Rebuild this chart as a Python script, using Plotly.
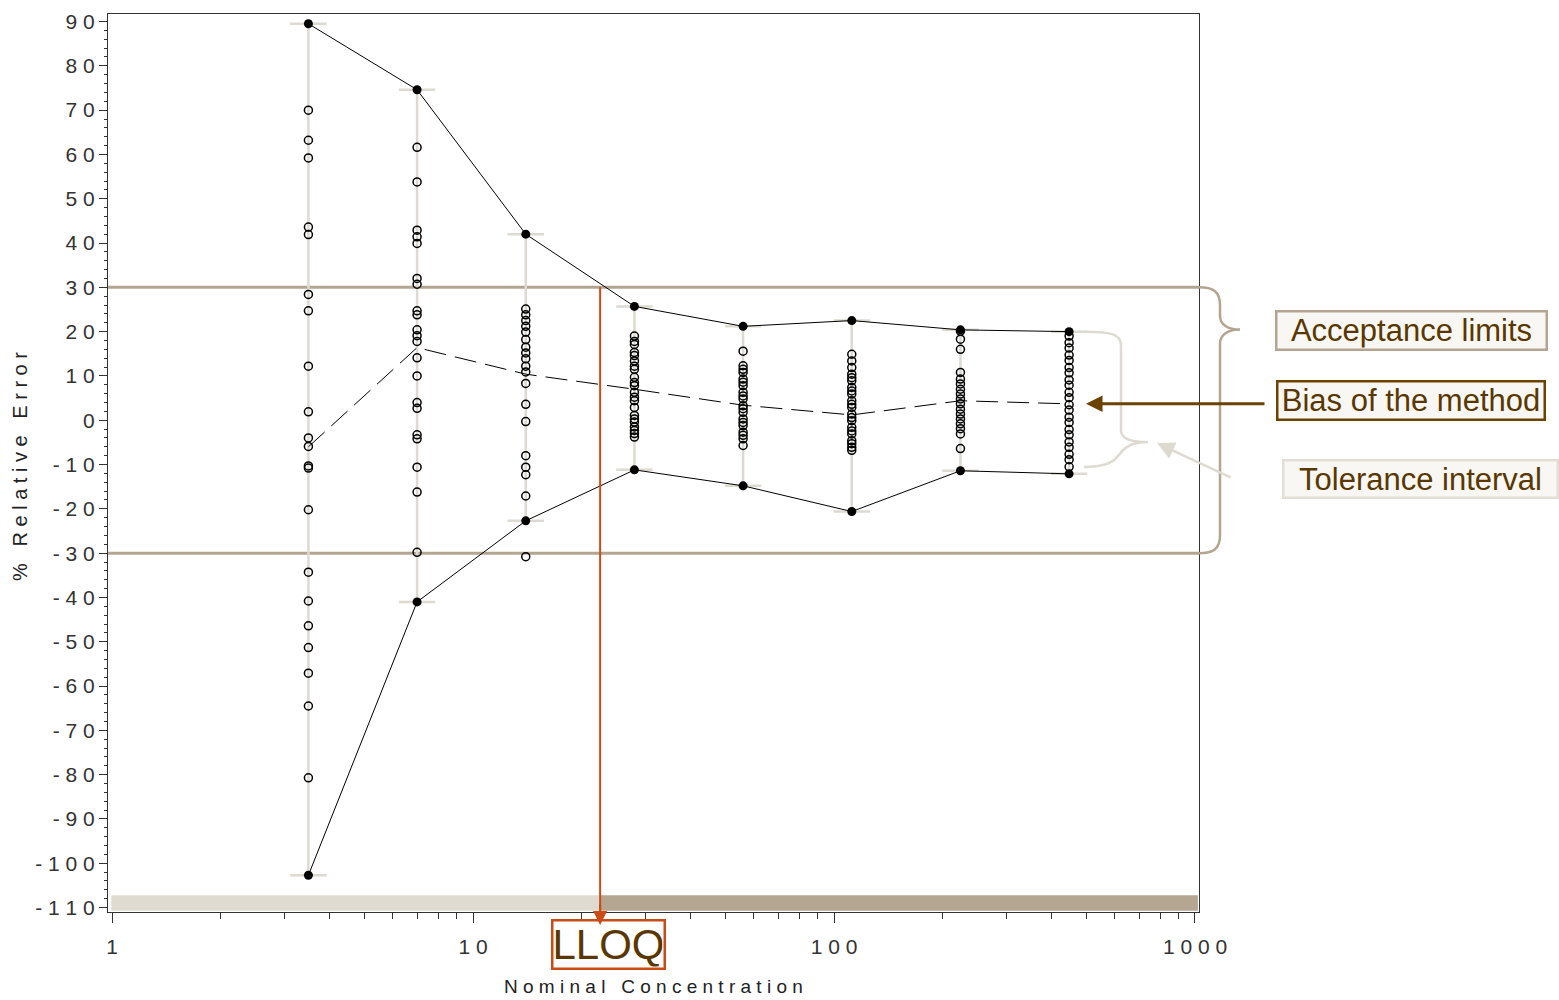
import math
import plotly.graph_objects as go

# ---------------- data ----------------
conc = [3.5, 7, 14, 28, 56, 112, 224, 448]
upper_tol = [89.5, 74.6, 42.0, 25.7, 21.2, 22.5, 20.4, 20.0]
lower_tol = [-102.7, -41.0, -22.7, -11.2, -14.8, -20.6, -11.4, -12.1]
bias = [-6.0, 16.4, 10.4, 7.0, 3.4, 1.2, 4.4, 3.7]

obs_3_5 = [70.0, 63.2, 59.2, 43.6, 41.9, 28.4, 24.7, 12.2, 1.9, -4.0, -5.9,
           -10.3, -10.8, -20.2, -34.3, -40.8, -46.4, -51.3, -57.1, -64.5, -80.7]
obs_7 = [61.6, 53.8, 42.9, 41.4, 39.9, 32.0, 30.7, 24.7, 23.8, 20.4, 19.1,
         17.8, 14.1, 10.0, 4.0, 2.7, -3.3, -4.2, -10.6, -16.2, -29.8]
obs_14 = [25.1, 23.8, 22.5, 21.2, 19.9, 18.2, 16.5, 15.2, 13.9, 12.2, 10.9,
          8.3, 3.6, -0.3, -8.0, -10.6, -12.3, -17.1, -30.8]
obs_28 = [19.0, 17.8, 17.1, 15.3, 14.6, 13.4, 12.2, 11.5, 9.7, 8.5, 7.8,
          6.3, 5.2, 4.4, 2.9, 1.1, 0.3, -0.4, -1.5, -2.3, -3.0, -3.8]
obs_56 = [15.6, 12.3, 11.5, 10.8, 9.3, 8.6, 7.8, 6.3, 5.5, 4.8, 3.3, 2.6,
          1.8, 0.3, -0.5, -1.2, -2.7, -3.4, -4.2, -5.7]
obs_112 = [14.9, 13.4, 11.9, 10.4, 9.6, 8.9, 7.4, 6.6, 5.9, 4.4, 3.6, 2.9,
           1.4, 0.6, -0.1, -1.6, -2.4, -3.1, -4.6, -5.3, -6.1, -6.8]
obs_224 = [20.1, 18.3, 16.0, 10.8, 9.3, 8.2, 7.0, 5.9, 4.8, 3.7, 2.5, 1.4,
           0.3, -0.8, -1.9, -3.1, -6.4]
obs_448 = [19.0, 17.5, 16.3, 14.7, 13.5, 11.9, 10.7, 9.1, 7.9, 6.3, 5.1, 3.5,
           2.3, 0.7, -0.5, -2.1, -3.3, -4.9, -6.1, -7.7, -8.9, -10.5]
observations = [obs_3_5, obs_7, obs_14, obs_28, obs_56, obs_112, obs_224, obs_448]

acceptance_limit = 30
lloq = 22.5

x_tickvals = [1, 10, 100, 1000]
y_tickvals = list(range(-110, 91, 10))

# ---------------- layout geometry ----------------
W, H = 1559, 1000
ML, MR, MT, MB = 108, 360, 10, 88
PW, PH = W - ML - MR, H - MT - MB
X_RANGE = [-0.0111, 3.0111]
Y_RANGE = [-111.0, 91.7]

def xp(v):  # data x -> paper
    return (math.log10(v) - X_RANGE[0]) / (X_RANGE[1] - X_RANGE[0])

def yp(v):  # data y -> paper
    return (v - Y_RANGE[0]) / (Y_RANGE[1] - Y_RANGE[0])

def ypx(v):  # data y -> pixel
    return MT + PH * (1 - yp(v))

def px2p(x):
    return (x - ML) / PW

def py2p(y):
    return (MT + PH - y) / PH

def path(cmds):
    out = []
    for c in cmds:
        if isinstance(c, str):
            out.append(c)
        else:
            out.append(f"{px2p(c[0]):.5f},{py2p(c[1]):.5f}")
    return " ".join(out)

spaced = lambda s: " ".join(str(s))

LIGHT = "#dedad0"
TAN = "#b3a590"
BROWN = "#6b4200"
TEXT_BROWN = "#5a3700"
RED = "#cc4a14"
AX = "#333333"

fig = go.Figure()

# vertical tolerance bars
vx, vy = [], []
for c, u, l in zip(conc, upper_tol, lower_tol):
    vx += [c, c, None]
    vy += [u, l, None]
fig.add_trace(go.Scatter(x=vx, y=vy, mode="lines",
                         line=dict(color=LIGHT, width=2.5), hoverinfo="skip"))
# caps
fig.add_trace(go.Scatter(x=conc + conc, y=upper_tol + lower_tol, mode="markers",
                         marker=dict(symbol="line-ew", size=26, color=LIGHT,
                                     line=dict(color=LIGHT, width=2.5)),
                         hoverinfo="skip"))
# individual observations
ox, oy = [], []
for c, obs in zip(conc, observations):
    ox += [c] * len(obs)
    oy += obs
fig.add_trace(go.Scatter(x=ox, y=oy, mode="markers",
                         marker=dict(symbol="circle-open", size=8, color="black",
                                     line=dict(color="black", width=1.5))))
# tolerance limits
for vals in (upper_tol, lower_tol):
    fig.add_trace(go.Scatter(x=conc, y=vals, mode="lines+markers",
                             line=dict(color="black", width=1),
                             marker=dict(symbol="circle", size=9, color="black")))
# bias
fig.add_trace(go.Scatter(x=conc, y=bias, mode="lines",
                         line=dict(color="black", width=1, dash="22px,9px")))

shapes = []
# acceptance limits
for a in (acceptance_limit, -acceptance_limit):
    shapes.append(dict(type="line", xref="paper", yref="y", x0=0, x1=1, y0=a, y1=a,
                       line=dict(color=TAN, width=3), layer="below"))
# bottom bars
shapes.append(dict(type="rect", xref="paper", yref="y", x0=0.003, x1=xp(lloq),
                   y0=-110.7, y1=-107.2, line=dict(width=0), fillcolor="#dfdbd1",
                   layer="below"))
shapes.append(dict(type="rect", xref="paper", yref="y", x0=xp(lloq), x1=0.999,
                   y0=-110.7, y1=-107.2, line=dict(width=0), fillcolor="#b4a690",
                   layer="below"))
# LLOQ red line
shapes.append(dict(type="line", xref="paper", yref="paper", x0=xp(lloq), x1=xp(lloq),
                   y0=yp(acceptance_limit), y1=0, line=dict(color=RED, width=2)))

# acceptance brace
top, bot = ypx(acceptance_limit), ypx(-acceptance_limit)
tip = 327
xe, xm, xt = ML + PW, ML + PW + 21, ML + PW + 41
shapes.append(dict(type="path", xref="paper", yref="paper", line=dict(color=TAN, width=2.5),
                   path=path(["M", (xe, top), "C", (xe + 14, top), (xm, top + 4), (xm, top + 18),
                              "L", (xm, tip - 14), "C", (xm, tip - 5), (xm + 8, tip), (xt, tip),
                              "C", (xm + 8, tip), (xm, tip + 5), (xm, tip + 14),
                              "L", (xm, bot - 18), "C", (xm, bot - 4), (xe + 14, bot), (xe, bot)])))
# tolerance brace
t_top, t_bot = ypx(upper_tol[-1]), ypx(lower_tol[-1]) - 7
shapes.append(dict(type="path", xref="paper", yref="paper", line=dict(color=LIGHT, width=2.5),
                   path=path(["M", (1084, t_top), "C", (1110, t_top), (1121, t_top + 2), (1121, t_top + 14),
                              "L", (1121, 428), "C", (1121, 436), (1130, 440), (1148, 440),
                              "C", (1130, 440), (1124, 446), (1118, 454),
                              "C", (1112, t_bot - 3), (1102, t_bot), (1084, t_bot)])))

C = dict(xanchor="center", yanchor="middle", xref="paper", yref="paper")
annotations = []
# axis titles
annotations.append(dict(**C, x=px2p(653), y=py2p(987),
                        text=spaced("Nominal") + "   " + spaced("Concentration"),
                        showarrow=False, font=dict(family="Liberation Sans", size=19, color="#222")))
annotations.append(dict(**C, x=px2p(20), y=py2p(465), textangle=-90,
                        text="%   " + spaced("Relative") + "   " + spaced("Error"),
                        showarrow=False, font=dict(family="Liberation Sans", size=20, color="#222")))
# LLOQ label and arrow head
annotations.append(dict(**C, x=px2p(608), y=py2p(945), text="LLOQ",
                        showarrow=False, font=dict(family="Liberation Sans", size=42, color=TEXT_BROWN),
                        bordercolor=RED, borderwidth=2.5, borderpad=1, bgcolor="white",
                        width=108, height=44))
annotations.append(dict(**C, x=xp(lloq), y=py2p(925), text="",
                        showarrow=True, ax=0, ay=-22, arrowhead=2, arrowsize=1.4,
                        arrowwidth=2, arrowcolor=RED, standoff=0))
# legend-like labels
annotations.append(dict(**C, x=px2p(1411.5), y=py2p(328),
                        text="Acceptance limits", showarrow=False,
                        font=dict(family="Liberation Sans", size=31, color=TEXT_BROWN),
                        bordercolor=TAN, borderwidth=2.5, borderpad=1, bgcolor="#f9f7f3",
                        width=266, height=34))
annotations.append(dict(**C, x=px2p(1411), y=py2p(398),
                        text="Bias of the method", showarrow=False,
                        font=dict(family="Liberation Sans", size=31, color=TEXT_BROWN),
                        bordercolor=BROWN, borderwidth=2.5, borderpad=1, bgcolor="#f9f7f3",
                        width=263, height=34))
annotations.append(dict(**C, x=px2p(1420), y=py2p(477.5),
                        text="Tolerance interval", showarrow=False,
                        font=dict(family="Liberation Sans", size=31, color=TEXT_BROWN),
                        bordercolor="#e3dfd6", borderwidth=2.5, borderpad=1, bgcolor="#f9f7f3",
                        width=270, height=33))
# arrows
annotations.append(dict(**C, x=px2p(1086), y=py2p(ypx(bias[-1])),
                        text="", showarrow=True, ax=180, ay=0, arrowhead=2, arrowsize=1.1,
                        arrowwidth=3, arrowcolor=BROWN, standoff=0))
annotations.append(dict(**C, x=px2p(1157), y=py2p(441),
                        text="", showarrow=True, ax=75, ay=35, arrowhead=2, arrowsize=1.4,
                        arrowwidth=2.5, arrowcolor=LIGHT, standoff=0))

tickfont = dict(family="Liberation Sans", size=21, color=AX)
fig.update_layout(
    width=W, height=H, autosize=False,
    margin=dict(l=ML, r=MR, t=MT, b=MB, pad=0),
    plot_bgcolor="white", paper_bgcolor="white", showlegend=False,
    shapes=shapes, annotations=annotations,
    xaxis=dict(type="log", range=X_RANGE, tickmode="array", tickvals=x_tickvals,
               ticktext=[spaced(v) for v in x_tickvals], ticks="outside", ticklen=10,
               tickwidth=1.2, tickcolor=AX, showline=True, linecolor=AX, linewidth=1.2,
               mirror=True, showgrid=False, zeroline=False, tickfont=tickfont,
               ticklabelstandoff=6,
               minor=dict(tickmode="array",
                          tickvals=[m * 10 ** d for d in range(3) for m in range(2, 10)],
                          ticks="outside", ticklen=6, tickcolor=AX, tickwidth=1, showgrid=False)),
    yaxis=dict(range=Y_RANGE, tickmode="array", tickvals=y_tickvals,
               ticktext=[spaced(v) for v in y_tickvals], ticks="outside", ticklen=8,
               tickwidth=1.2, tickcolor=AX, showline=True, linecolor=AX, linewidth=1.2,
               mirror=True, showgrid=False, zeroline=False, tickfont=tickfont,
               minor=dict(dtick=2, ticks="outside", ticklen=3, tickcolor=AX, tickwidth=1,
                          showgrid=False)),
)

fig.write_html("out.html")
